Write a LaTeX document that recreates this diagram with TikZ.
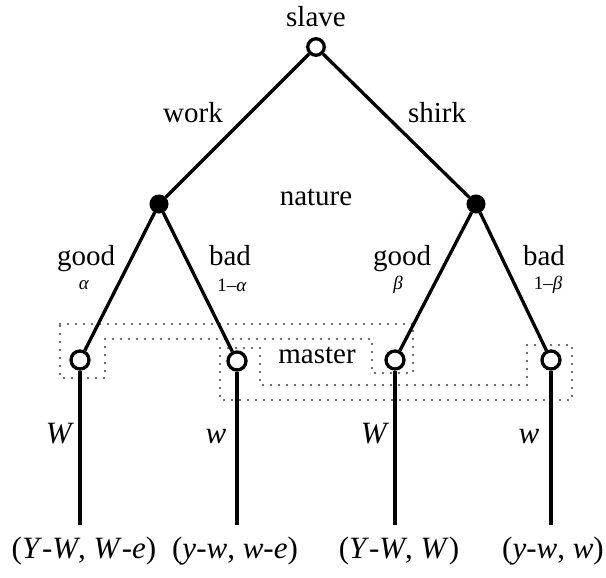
\documentclass[tikz,border=0pt]{standalone}
\usepackage{fontspec}
\setmainfont{Liberation Serif}
\begin{document}
\begin{tikzpicture}[x=1pt,y=-1pt,
  edge/.style={line width=3.3pt},
  opennode/.style={circle,draw,line width=3.3pt,fill=white,inner sep=0pt,minimum size=16.5pt},
  leafnode/.style={circle,draw,line width=3.3pt,fill=white,inner sep=0pt,minimum size=18pt},
  chance/.style={circle,draw,fill=black,line width=1pt,inner sep=0pt,minimum size=18pt},
  lbl/.style={anchor=base,inner sep=0pt,font=\fontsize{29}{34}\selectfont},
  pay/.style={anchor=base,inner sep=0pt,font=\fontsize{31}{36}\selectfont},
  prob/.style={inner sep=0pt,font=\fontsize{19}{22}\selectfont},
  infoset/.style={black!75,line width=2.3pt,line cap=round,dash pattern=on 0pt off 8pt}]
\useasboundingbox (0,0) rectangle (606,578);
% information sets
\draw[infoset] (60,324) -- (413,324) -- (413,373) -- (372,373) -- (372,339) -- (105,339) -- (105,378) -- (60,378) -- cycle;
\draw[infoset] (220,348) -- (260,348) -- (260,385) -- (527,385) -- (527,345) -- (572,345) -- (572,400) -- (220,400) -- cycle;
% nodes
\node[opennode] (root) at (316,47) {};
\node[chance] (nw) at (159,204) {};
\node[chance] (ns) at (476,204) {};
\node[leafnode] (l1) at (80,360) {};
\node[leafnode] (l2) at (237,361) {};
\node[leafnode] (l3) at (395,360) {};
\node[leafnode] (l4) at (551,360) {};
\coordinate (e1) at (80,525);
\coordinate (e2) at (237,525);
\coordinate (e3) at (395,525);
\coordinate (e4) at (551,525);
% edges
\draw[edge] (root) -- (nw);
\draw[edge] (root) -- (ns);
\draw[edge] (nw) -- (l1);
\draw[edge] (nw) -- (l2);
\draw[edge] (ns) -- (l3);
\draw[edge] (ns) -- (l4);
\draw[edge] (l1) -- (e1);
\draw[edge] (l2) -- (e2);
\draw[edge] (l3) -- (e3);
\draw[edge] (l4) -- (e4);
% labels
\node[lbl] (tslave) at (316,27) {slave};
\node[lbl] (twork) at (193,123) {work};
\node[lbl] (tshirk) at (437,123) {shirk};
\node[lbl] (tnature) at (316,205) {nature};
\node[lbl] (tg1) at (86,265) {good};
\node[prob] (pg1) at (84,285) {\textit{α}};
\node[lbl] (tb1) at (230,265) {bad};
\node[prob] (pb1) at (232,285) {1\textendash\textit{α}};
\node[lbl] (tg2) at (402,265) {good};
\node[prob] (pg2) at (398,285) {\textit{β}};
\node[lbl] (tb2) at (544,265) {bad};
\node[prob] (pb2) at (548,285) {1\textendash\textit{β}};
\node[lbl] (tmaster) at (317,363) {master};
\node[lbl,font=\fontsize{31}{36}\selectfont] (tW1) at (60,443) {\textit{W}};
\node[lbl,font=\fontsize{31}{36}\selectfont] (tw1) at (216,443) {\textit{w}};
\node[lbl,font=\fontsize{31}{36}\selectfont] (tW2) at (375,443) {\textit{W}};
\node[lbl,font=\fontsize{31}{36}\selectfont] (tw2) at (529,443) {\textit{w}};
\node[pay] (pay1) at (84,558) {(\textit{Y}-\textit{W}, \textit{W}-\textit{e})};
\node[pay] (pay2) at (235,558) {(\textit{y}-\textit{w}, \textit{w}-\textit{e})};
\node[pay] (pay3) at (399,558) {(\textit{Y}-\textit{W}, \textit{W})};
\node[pay] (pay4) at (553,558) {(\textit{y}-\textit{w}, \textit{w})};
\end{tikzpicture}
\end{document}
